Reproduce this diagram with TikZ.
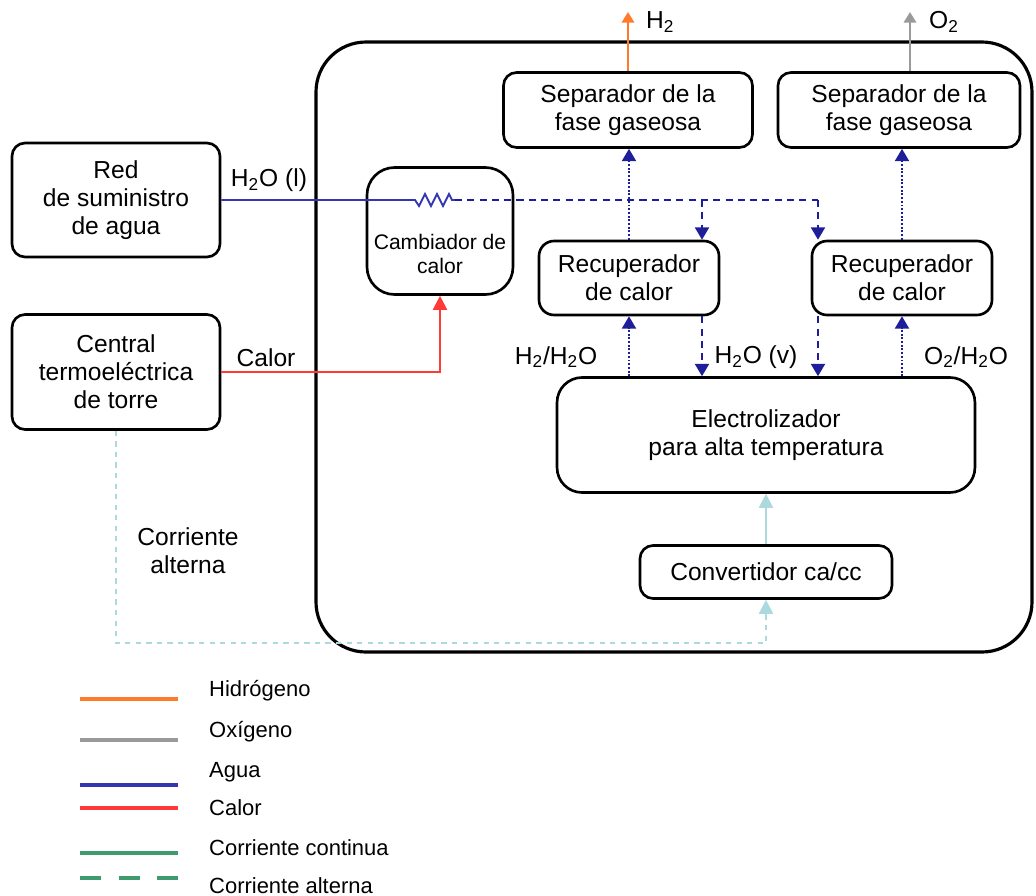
\documentclass[tikz,border=0pt]{standalone}
\usepackage{fontspec}
\setmainfont{Liberation Sans}
\usetikzlibrary{arrows.meta, positioning, calc}
\definecolor{hyorange}{HTML}{FF7A2A}
\definecolor{oxgrey}{HTML}{9A9A9A}
\definecolor{wtblue}{HTML}{3535B0}
\definecolor{wtnavy}{HTML}{1E1E9A}
\definecolor{htred}{HTML}{FF3838}
\definecolor{dcgreen}{HTML}{3F9B6E}
\definecolor{accyan}{HTML}{ABD9DD}

\begin{document}
\begin{tikzpicture}[x=0.02cm, y=-0.02cm, font=\fontsize{14}{16}\selectfont,
    unit/.style={draw, line width=1.5pt, rounded corners=0.26cm, align=center, inner sep=0pt},
    tip/.style={-{Triangle[width=8pt,length=7pt]}},
    water/.style={wtblue, line width=1.1pt},
    vapour/.style={wtnavy, line width=1.1pt, dash pattern=on 4pt off 3pt},
    gasup/.style={wtnavy, line width=1.1pt, densely dotted},
    heat/.style={htred, line width=1.2pt},
    acline/.style={accyan, line width=1.2pt, dash pattern=on 3pt off 3pt},
    legline/.style={line width=2.2pt},
    legtext/.style={anchor=west, font=\fontsize{12.5}{15}\selectfont}]
  \useasboundingbox (0,0) rectangle (1036,896);

  % plant boundary
  \draw[line width=1.8pt, rounded corners=1cm] (316,42) rectangle (1032,652);

  % outside units
  \node[unit, minimum width=4.16cm, minimum height=2.28cm] (red) at (116,200)
    {Red\\de suministro\\de agua};
  \node[unit, minimum width=4.16cm, minimum height=2.3cm] (central) at (116,372)
    {Central\\termoeléctrica\\de torre};

  % units inside the plant
  \node[unit, rounded corners=0.55cm, minimum width=2.92cm, minimum height=2.54cm,
        label={[font=\fontsize{12}{14}\selectfont, align=center, yshift=-0.46cm]center:Cambiador de\\calor}]
        (camb) at (440,231) {};
  \node[unit, minimum width=4.98cm, minimum height=1.5cm] (sep1) at (628,110) {Separador de la\\fase gaseosa};
  \node[unit, minimum width=4.84cm, minimum height=1.5cm] (sep2) at (899,110) {Separador de la\\fase gaseosa};
  \node[unit, rounded corners=0.3cm, minimum width=3.6cm, minimum height=1.48cm] (rec1) at (629,278) {Recuperador\\de calor};
  \node[unit, rounded corners=0.3cm, minimum width=3.6cm, minimum height=1.48cm] (rec2) at (902,278) {Recuperador\\de calor};
  \node[unit, rounded corners=0.5cm, minimum width=8.36cm, minimum height=2.3cm] (elec) at (766,435)
    {Electrolizador\\para alta temperatura};
  \node[unit, minimum width=5.04cm, minimum height=1.06cm] (conv) at (766,572) {Convertidor ca/cc};

  % products
  \coordinate (h2out) at (628,12);
  \coordinate (o2out) at (910,12);
  \draw[hyorange, line width=1.3pt, -{Triangle[width=7pt,length=6pt]}] (sep1.north) -- (h2out);
  \draw[oxgrey, line width=1.3pt, -{Triangle[width=7pt,length=6pt]}] (o2out |- sep2.north) -- (o2out);
  \node[anchor=west] (h2lab) at (640,22) {H\textsubscript{2}};
  \node[anchor=west] (o2lab) at (923,22) {O\textsubscript{2}};

  % water feed through the heat exchanger
  \coordinate (zs) at (415,200);
  \coordinate (ze) at (455,200);
  \coordinate (br1) at (702,200);
  \coordinate (br2) at (818,200);
  \draw[water] (red.east) -- (zs) -- ++(4,6) -- ++(6,-12) -- ++(6,12) -- ++(6,-12)
    -- ++(6,12) -- ++(6,-12) -- ++(3,6) -- (ze);
  \draw[vapour] (ze) -- (br2);
  \draw[vapour, tip] (br1) -- (br1 |- rec1.north);
  \draw[vapour, tip] (br2) -- (br2 |- rec2.north);
  \draw[vapour, tip] (br1 |- rec1.south) -- (br1 |- elec.north);
  \draw[vapour, tip] (br2 |- rec2.south) -- (br2 |- elec.north);
  \node (h2ol) at (269,180) {H\textsubscript{2}O (l)};

  % gases leaving the electrolyser
  \draw[gasup, tip] (rec1.south |- elec.north) -- (rec1.south);
  \draw[gasup, tip] (rec1.north) -- (rec1.north |- sep1.south);
  \draw[gasup, tip] (rec2.south |- elec.north) -- (rec2.south);
  \draw[gasup, tip] (rec2.north) -- (rec2.north |- sep2.south);
  \node (mixh) at (556,357) {H\textsubscript{2}/H\textsubscript{2}O};
  \node (vap) at (756,357) {H\textsubscript{2}O (v)};
  \node (mixo) at (966,357) {O\textsubscript{2}/H\textsubscript{2}O};

  % heat
  \draw[heat, -{Triangle[width=8pt,length=8pt]}] (central.east) -| (camb.south);
  \node (calor) at (266,358) {Calor};

  % electricity
  \coordinate (acbot) at (116,643);
  \draw[acline, -{Triangle[width=8pt,length=8pt]}] (central.south) -- (acbot) -| (conv.south);
  \draw[accyan, line width=1.2pt, -{Triangle[width=8pt,length=8pt]}] (conv.north) -- (elec.south);
  \node[align=center] (ac) at (188,551) {Corriente\\alterna};

  % legend
  \foreach \col/\ly/\ty/\txt in {hyorange/699/691/Hidrógeno, oxgrey/740/732/Oxígeno,
      wtblue/785/772/Agua, htred/808/808/Calor, dcgreen/853/848/Corriente continua} {
    \draw[legline, \col] (80,\ly) -- (178,\ly);
    \node[legtext] (leg\ty) at (203,\ty) {\txt};
  }
  \draw[legline, dcgreen, dash pattern=on 12pt off 10pt] (80,878) -- (178,878);
  \node[legtext] (leg886) at (203,886) {Corriente alterna};
\end{tikzpicture}
\end{document}
